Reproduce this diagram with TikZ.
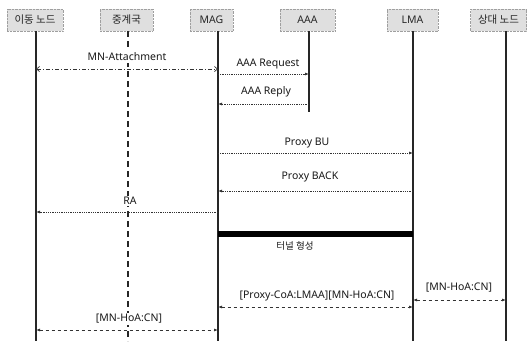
\documentclass[tikz,border=0pt]{standalone}
\usepackage{fontspec}
\setmainfont{Noto Sans}
\newfontfamily\kr{Noto Sans CJK KR}
\usetikzlibrary{arrows.meta}
\begin{document}
\begin{tikzpicture}[x=1pt,y=-1pt,
  hdr/.style={draw=gray!75, densely dotted, fill=gray!25, minimum height=22pt, inner sep=1pt,
              font=\fontsize{10.5}{12}\selectfont, text=black!85},
  life/.style={line width=1.2pt, black!85},
  lbl/.style={font=\fontsize{10.5}{12}\selectfont, text=black!90, inner sep=1.5pt, fill=white},
  dotarr/.style={densely dotted, line width=0.8pt, black!80, -{Latex[length=4pt,width=3pt]}},
  dashboth/.style={dashed, line width=0.8pt, black!80, {Latex[length=4pt,width=3pt]}-{Latex[length=4pt,width=3pt]}},
  dashdotboth/.style={dash pattern=on 4pt off 2pt on 1pt off 2pt, line width=0.7pt, black!80,
              {Straight Barb[length=3pt,width=5pt]}-{Straight Barb[length=3pt,width=5pt]}}
]
\useasboundingbox (0,0) rectangle (527,341);
% headers
\node[hdr, minimum width=56pt] (h1) at (35,20) {\kr 이동 노드};
\node[hdr, minimum width=53pt] (h2) at (126.5,20) {\kr 중계국};
\node[hdr, minimum width=43pt] (h3) at (211.5,20) {MAG};
\node[hdr, minimum width=55pt] (h4) at (307.5,20) {AAA};
\node[hdr, minimum width=51pt] (h5) at (412.5,20) {LMA};
\node[hdr, minimum width=56pt] (h6) at (498.5,20) {\kr 상대 노드};
% lifeline ends
\coordinate (t1) at (36,31);   \coordinate (b1) at (36,341);
\coordinate (t2) at (128,31);  \coordinate (b2) at (128,341);
\coordinate (t3) at (218,31);  \coordinate (b3) at (218,341);
\coordinate (t4) at (309,31);  \coordinate (b4) at (309,112);
\coordinate (t5) at (413,31);  \coordinate (b5) at (413,341);
\coordinate (t6) at (506,31);  \coordinate (b6) at (506,341);
\draw[life, line width=1.8pt] (t1) -- (b1);
\draw[line width=2.2pt, black!85, dash pattern=on 6pt off 4pt] (t2) -- (b2);
\draw[life] (t3) -- (b3);
\draw[life] (t4) -- (b4);
\draw[life] (t5) -- (b5);
\draw[life, line width=1.4pt] (t6) -- (b6);
% MN-Attachment
\coordinate (m1a) at (36,69); \coordinate (m1b) at (218,69);
\draw[dashdotboth] (m1a) -- (m1b);
\node[lbl] (l1) at (127,57) {MN-Attachment};
% AAA Request
\coordinate (m2a) at (218,74); \coordinate (m2b) at (309,74);
\draw[dotarr] (m2a) -- (m2b);
\node[lbl] (l2) at (268,64) {AAA Request};
% AAA Reply
\coordinate (m3a) at (309,104); \coordinate (m3b) at (218,104);
\draw[dotarr] (m3a) -- (m3b);
\node[lbl] (l3) at (266,92) {AAA Reply};
% Proxy BU
\coordinate (m4a) at (218,153); \coordinate (m4b) at (413,153);
\draw[dotarr] (m4a) -- (m4b);
\node[lbl] (l4) at (307,143) {Proxy BU};
% Proxy BACK
\coordinate (m5a) at (413,191); \coordinate (m5b) at (218,191);
\draw[dotarr] (m5a) -- (m5b);
\node[lbl] (l5) at (310,177) {Proxy BACK};
% RA
\coordinate (m6a) at (218,212); \coordinate (m6b) at (36,212);
\draw[dotarr] (m6a) -- (m6b);
\node[lbl] (l6) at (130,201) {RA};
% tunnel bar
\coordinate (m7a) at (218,234); \coordinate (m7b) at (413,234);
\draw[line width=6pt, black] (m7a) -- (m7b);
\node[lbl, font=\kr\fontsize{9.5}{11}\selectfont] (l7) at (295,246) {터널 형성};
% Proxy-CoA
\coordinate (m8a) at (218,307); \coordinate (m8b) at (413,307);
\draw[dashboth] (m8a) -- (m8b);
\node[lbl] (l8) at (317,296) {[Proxy-CoA:LMAA][MN-HoA:CN]};
% MN-HoA right
\coordinate (m9a) at (413,300); \coordinate (m9b) at (506,300);
\draw[dashboth] (m9a) -- (m9b);
\node[lbl] (l9) at (459,288) {[MN-HoA:CN]};
% MN-HoA left
\coordinate (m10a) at (36,330); \coordinate (m10b) at (218,330);
\draw[dashboth] (m10a) -- (m10b);
\node[lbl] (l10) at (129,319) {[MN-HoA:CN]};
\end{tikzpicture}
\end{document}
